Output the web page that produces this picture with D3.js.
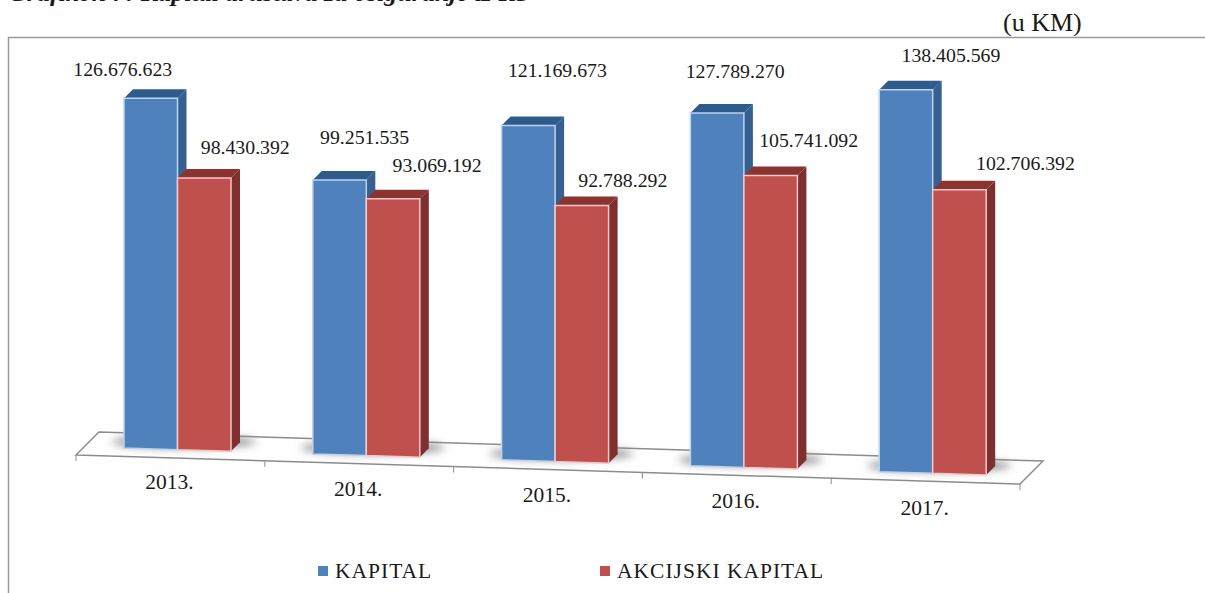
<!DOCTYPE html>
<html>
<head>
<meta charset="utf-8">
<script src="https://cdn.jsdelivr.net/npm/d3@7"></script>
<style>
  html, body { margin: 0; padding: 0; background: #fff; overflow: hidden; }
  text { font-family: "Liberation Serif", serif; fill: #1a1a1a; }
</style>
</head>
<body>
<svg id="chart" width="1205" height="593"></svg>
<script>
// data
const years = ["2013.", "2014.", "2015.", "2016.", "2017."];
const seriesNames = ["KAPITAL", "AKCIJSKI KAPITAL"];
const kapital = [126676623, 99251535, 121169673, 127789270, 138405569];
const akcijski = [98430392, 93069192, 92788292, 105741092, 102706392];

// labels were hand placed in the original, offsets from the bar's top middle
const kapitalLabelOffsets = [[-28, -28], [25, -42], [29, -54], [18, -41], [45, -33]];
const akcijskiLabelOffsets = [[41, -30], [44, -32], [41, -24], [38, -34], [66, -25]];

const colors = {
    blue: "#4f81bd", blueTop: "#2f5b8c", blueSide: "#35608f",
    red: "#c0504d", redTop: "#8a3331", redSide: "#7f2f2d"
};

const svg = d3.select("#chart");
const defs = svg.append("defs");
defs.append("filter").attr("id", "soft")
    .attr("x", "-30%").attr("y", "-150%").attr("width", "160%").attr("height", "400%")
    .append("feGaussianBlur").attr("stdDeviation", 4);

// clipped title and the frame
svg.append("text").attr("x", 8).attr("y", 1)
    .style("font-size", "26px").style("font-weight", "bold").style("font-style", "italic")
    .text("Grafikon 7: Kapital društava za osiguranje iz RS");
svg.append("text").attr("x", 1003).attr("y", 31)
    .style("font-size", "26px").text("(u KM)");
svg.append("path").attr("d", "M8.5,593V37.5H1205").attr("fill", "none").attr("stroke", "#9a9a9a").attr("stroke-width", 1.5);

// scales
const x0 = d3.scaleBand().domain(years).range([76, 1020]);
const x1 = d3.scaleBand().domain(seriesNames).range([48, 155]);
const h = d3.scaleLinear().domain([0, 100000000]).range([0, 276]);
// the floor runs downhill, these give its y for any x
const frontEdge = d3.scaleLinear().domain([76, 1020]).range([455, 484]);
const labelLine = d3.scaleLinear().domain([76, 1020]).range([486, 518]);
const barFoot = d3.scaleLinear().domain([124, 986]).range([448, 475]);
const depth = 23, barDepth = 9;

// floor
const fl = 76, fr = 1020;
svg.append("polygon")
    .attr("points", [[fl, frontEdge(fl)], [fr, frontEdge(fr)], [fr + depth, frontEdge(fr) - depth], [fl + depth, frontEdge(fl) - depth]].join(" "))
    .attr("fill", "#fff").attr("stroke", "#8c8c8c").attr("stroke-width", 1.5);

// axis ticks
d3.range(years.length + 1).forEach(i => {
    const tx = fl + i * x0.step();
    svg.append("line").attr("x1", tx).attr("x2", tx)
        .attr("y1", frontEdge(tx)).attr("y2", frontEdge(tx) + 6)
        .attr("stroke", "#8c8c8c").attr("stroke-width", 1);
});

svg.selectAll(".yr").data(years).enter().append("text")
    .attr("class", "yr")
    .attr("x", d => x0(d) + x0.bandwidth() / 2 - 1)
    .attr("y", d => labelLine(x0(d) + x0.bandwidth() / 2))
    .attr("text-anchor", "middle")
    .style("font-size", "21.5px")
    .text(d => d);

// shadows on the floor
svg.selectAll(".shadow").data(years).enter().append("ellipse")
    .attr("class", "shadow")
    .attr("cx", d => x0(d) + x1.range()[0] + 60)
    .attr("cy", d => barFoot(x0(d) + x1.range()[0] + 60) - 8)
    .attr("rx", 72).attr("ry", 6)
    .attr("fill", "#8a8a8a").attr("filter", "url(#soft)");

function drawSeries(name, values, front, top, side) {
    const w = x1.bandwidth();
    const g = svg.append("g");
    const rows = years.map((y, i) => {
        const left = x0(y) + x1(name);
        return { y, left, right: left + w, foot: barFoot(left), footR: barFoot(left + w), hgt: h(values[i]) };
    });
    g.selectAll(".side").data(rows).enter().append("polygon")
        .attr("fill", side)
        .attr("points", d => [[d.right, d.footR], [d.right + barDepth, d.footR - barDepth],
            [d.right + barDepth, d.foot - d.hgt - barDepth], [d.right, d.foot - d.hgt]].join(" "));
    g.selectAll(".top").data(rows).enter().append("polygon")
        .attr("fill", top)
        .attr("points", d => [[d.left, d.foot - d.hgt], [d.right, d.foot - d.hgt],
            [d.right + barDepth, d.foot - d.hgt - barDepth], [d.left + barDepth, d.foot - d.hgt - barDepth]].join(" "));
    g.selectAll(".front").data(rows).enter().append("polygon")
        .attr("fill", front)
        .attr("stroke", name === seriesNames[0] ? "#bcd4f0" : "#f2c9c8").attr("stroke-width", 1.5)
        .attr("points", d => [[d.left, d.foot], [d.right, d.footR], [d.right, d.foot - d.hgt], [d.left, d.foot - d.hgt]].join(" "));
    return rows;
}

const kapRows = drawSeries(seriesNames[0], kapital, colors.blue, colors.blueTop, colors.blueSide);
const akcRows = drawSeries(seriesNames[1], akcijski, colors.red, colors.redTop, colors.redSide);

// value labels use dots for thousands
const fmt = d3.formatLocale({ decimal: ",", thousands: ".", grouping: [3], currency: ["", ""] }).format(",d");
function drawLabels(rows, values, offsets) {
    svg.append("g").selectAll("text").data(rows).enter().append("text")
        .attr("x", (d, i) => (d.left + d.right) / 2 + offsets[i][0])
        .attr("y", (d, i) => d.foot - d.hgt + offsets[i][1] + 1)
        .attr("text-anchor", "middle").attr("dominant-baseline", "middle")
        .style("font-size", "19.8px")
        .text((d, i) => fmt(values[i]));
}
drawLabels(kapRows, kapital, kapitalLabelOffsets);
drawLabels(akcRows, akcijski, akcijskiLabelOffsets);

// legend
const legendX = d3.scaleOrdinal().domain(seriesNames).range([318, 600]);
const legendColor = d3.scaleOrdinal().domain(seriesNames).range([colors.blue, colors.red]);
const legend = svg.selectAll(".lg").data(seriesNames).enter().append("g").attr("class", "lg");
legend.append("rect").attr("x", d => legendX(d)).attr("y", 566).attr("width", 10).attr("height", 10).attr("fill", d => legendColor(d));
legend.append("text").attr("x", d => legendX(d) + 17).attr("y", 578)
    .style("font-size", "21.5px").style("letter-spacing", "1px").text(d => d);
</script>
</body>
</html>
